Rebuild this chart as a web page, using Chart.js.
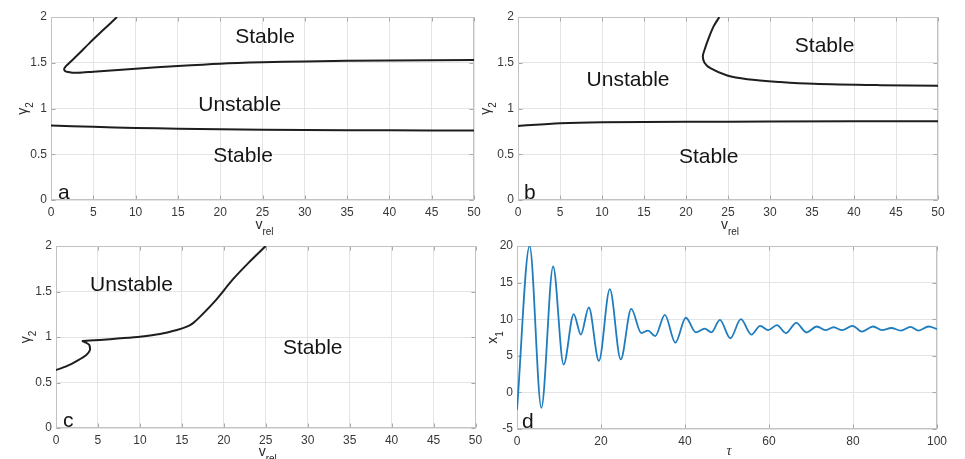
<!DOCTYPE html>
<html>
<head>
<meta charset="utf-8">
<script src="https://cdn.jsdelivr.net/npm/chart.js@4/dist/chart.umd.min.js"></script>
<style>
  html, body { margin: 0; padding: 0; background: #fff; }
  body { position: relative; width: 965px; height: 459px; overflow: hidden; }
  canvas { position: absolute; }
</style>
</head>
<body>
<canvas id="chartA" width="486" height="245" style="left:0;top:0"></canvas>
<canvas id="chartB" width="495" height="245" style="left:470px;top:0"></canvas>
<canvas id="chartC" width="488" height="229" style="left:0;top:230px"></canvas>
<canvas id="chartD" width="495" height="229" style="left:470px;top:230px"></canvas>
<script>
// ---------- axis ticks ----------
const vTicks = [0, 5, 10, 15, 20, 25, 30, 35, 40, 45, 50];
const gammaTicks = [0, 0.5, 1, 1.5, 2];
const tauTicks = [0, 20, 40, 60, 80, 100];
const x1Ticks = [-5, 0, 5, 10, 15, 20];

// ---------- (a) stability boundaries ----------
const aUpperV = [7.8, 6.2, 4.6, 3.2, 2.3, 1.9, 1.62, 1.56, 1.68, 2.0, 2.5, 3.2, 5, 10, 15, 20, 25, 30, 40, 50];
const aUpperG = [2.0, 1.86, 1.72, 1.59, 1.51, 1.475, 1.445, 1.425, 1.408, 1.398, 1.392, 1.39, 1.402, 1.435, 1.465, 1.49, 1.505, 1.515, 1.525, 1.53];
const aLowerV = [0, 5, 10, 15, 20, 30, 40, 50];
const aLowerG = [0.815, 0.8, 0.788, 0.779, 0.772, 0.765, 0.761, 0.759];

// ---------- (b) ----------
const bUpperV = [23.97, 23.3, 22.7, 22.2, 22.0, 22.2, 22.9, 24.9, 27.3, 31.2, 35.2, 43.1, 50];
const bUpperG = [2.0, 1.9, 1.77, 1.64, 1.57, 1.5, 1.44, 1.36, 1.32, 1.29, 1.27, 1.255, 1.248];
const bLowerV = [0, 5, 10, 20, 30, 50];
const bLowerG = [0.81, 0.839, 0.85, 0.854, 0.858, 0.861];

// ---------- (c) ----------
const cBoundV = [0, 1.27, 2.66, 3.58, 4.05, 3.97, 3.58, 3.18, 5.24, 7.63, 10.0, 12.4, 14.4, 15.6, 16.3, 17.3, 19.0, 21.1, 23.0, 25.0];
const cBoundG = [0.637, 0.68, 0.747, 0.8, 0.857, 0.912, 0.938, 0.956, 0.967, 0.985, 1.004, 1.033, 1.077, 1.114, 1.15, 1.235, 1.4, 1.635, 1.82, 2.0];

// ---------- (d) response x1(tau), peaks and troughs ----------
const dTau = [0, 3.0, 5.8, 8.6, 11.1, 13.5, 15.2, 17.1, 19.5, 22.1, 24.7, 27.2, 29.6, 31.2, 32.9,
  35.2, 37.7, 40.2, 42.6, 44.7, 46.3, 48.3, 50.8, 53.3, 55.8, 57.9, 59.8, 61.9, 64.0, 66.5,
  68.9, 71.4, 73.4, 75.4, 77.4, 79.9, 82.1, 84.8, 86.9, 89.1, 91.4, 93.7, 95.6, 98.0, 100];
const dX1 = [-2.4, 20, -2.1, 17.2, 3.8, 10.7, 7.9, 11.6, 4.3, 14.1, 4.5, 11.4, 8.1, 8.45, 7.7,
  10.6, 6.8, 10.2, 8.2, 8.7, 8.2, 9.9, 7.4, 10.0, 7.9, 9.1, 8.5, 9.2, 8.1, 9.5,
  8.2, 9.0, 8.5, 8.9, 8.5, 9.1, 8.3, 9.0, 8.5, 8.8, 8.45, 8.95, 8.45, 9.0, 8.65];

const FONT = "'Liberation Sans', Arial, sans-serif";
const pts = (xs, ys) => xs.map((x, i) => ({ x, y: ys[i] }));

const curve = (xs, ys, tension = 0.3) => ({
  data: pts(xs, ys),
  showLine: true,
  borderColor: "#1e1e1e",
  borderWidth: 2,
  pointRadius: 0,
  tension,
});

// box outline + small inward tick marks
const framePlugin = {
  id: "frame",
  beforeDatasetsDraw(chart) {
    const { ctx, chartArea: a, scales } = chart;
    const L = Math.round(a.left) + 0.5, R = Math.round(a.right) - 0.5;
    const T = Math.round(a.top) + 0.5, B = Math.round(a.bottom) - 0.5;
    ctx.save();
    ctx.lineWidth = 1;
    ctx.strokeStyle = "#a8a8a8";
    ctx.beginPath();
    scales.x.ticks.forEach((t) => {
      const px = Math.round(scales.x.getPixelForValue(t.value)) + 0.5;
      ctx.moveTo(px, B); ctx.lineTo(px, B - 4);
      ctx.moveTo(px, T); ctx.lineTo(px, T + 4);
    });
    scales.y.ticks.forEach((t) => {
      const py = Math.round(scales.y.getPixelForValue(t.value)) + 0.5;
      ctx.moveTo(L, py); ctx.lineTo(L + 4, py);
      ctx.moveTo(R, py); ctx.lineTo(R - 4, py);
    });
    ctx.stroke();
    ctx.strokeStyle = "#c2c2c2";
    ctx.strokeRect(L, T, R - L, B - T);
    ctx.restore();
  },
};

// text with an optional subscript, centred on (x, y)
function drawSub(ctx, main, sub, x, y, rotate, mainFont, subFont) {
  ctx.save();
  ctx.translate(x, y);
  if (rotate) ctx.rotate(-Math.PI / 2);
  ctx.font = mainFont;
  const w1 = ctx.measureText(main).width;
  ctx.font = subFont;
  const w2 = sub ? ctx.measureText(sub).width : 0;
  const x0 = -(w1 + w2) / 2;
  ctx.textAlign = "left";
  ctx.textBaseline = "middle";
  ctx.fillStyle = "#2a2a2a";
  ctx.font = mainFont;
  ctx.fillText(main, x0, 0);
  if (sub) {
    ctx.font = subFont;
    ctx.fillText(sub, x0 + w1, 7);
  }
  ctx.restore();
}

// region names, panel letter and axis titles
const notesPlugin = (n) => ({
  id: "notes",
  afterDatasetsDraw(chart) {
    const { ctx, chartArea: a, scales: { x, y } } = chart;
    ctx.save();
    ctx.fillStyle = "#151515";
    ctx.font = "21px " + FONT;
    ctx.textAlign = "center";
    ctx.textBaseline = "middle";
    n.texts.forEach((t) => ctx.fillText(t.t, x.getPixelForValue(t.x), y.getPixelForValue(t.y)));
    ctx.textAlign = "left";
    ctx.textBaseline = "alphabetic";
    ctx.fillText(n.letter, a.left + n.letterDx, a.bottom - 1);
    ctx.restore();

    drawSub(ctx, n.yTitle[0], n.yTitle[1], a.left - n.yOff, (a.top + a.bottom) / 2, true,
      "14px " + FONT, "10px " + FONT);
    drawSub(ctx, n.xTitle[0], n.xTitle[1], (a.left + a.right) / 2 + 2, a.bottom + n.xOff, false,
      n.xFont, "10px " + FONT);
  },
});

function axis(ticks, fitSize, isX) {
  return {
    type: "linear",
    min: ticks[0],
    max: ticks[ticks.length - 1],
    afterBuildTicks: (s) => { s.ticks = ticks.map((value) => ({ value })); },
    afterFit: (s) => { if (isX) s.height = fitSize; else s.width = fitSize; },
    grid: { color: "#e4e4e4", drawTicks: false },
    border: { display: false },
    ticks: {
      padding: isX ? 5 : 4,
      color: "#383838",
      font: { family: FONT, size: 12 },
      maxRotation: 0,
      autoSkip: false,
      callback: (v) => String(v),
    },
  };
}

function panel(id, box, datasets, xTicks, yTicks, notes) {
  new Chart(document.getElementById(id), {
    type: "scatter",
    data: { datasets },
    options: {
      responsive: false,
      animation: false,
      events: [],
      layout: { padding: { left: 0, top: box.top, right: box.right, bottom: 0 } },
      scales: {
        x: axis(xTicks, box.xh, true),
        y: axis(yTicks, box.yw, false),
      },
      plugins: { legend: { display: false }, tooltip: { enabled: false } },
    },
    plugins: [framePlugin, notesPlugin(notes)],
  });
}

const vrel = { xTitle: ["v", "rel"], xFont: "14px " + FONT };

panel("chartA", { top: 17, right: 12, yw: 51, xh: 45 },
  [curve(aUpperV, aUpperG), curve(aLowerV, aLowerG)], vTicks, gammaTicks,
  Object.assign({
    texts: [
      { t: "Stable", x: 25.3, y: 1.78 },
      { t: "Unstable", x: 22.3, y: 1.04 },
      { t: "Stable", x: 22.7, y: 0.48 },
    ],
    letter: "a", letterDx: 7, yTitle: ["γ", "2"], yOff: 28, xOff: 25,
  }, vrel));

panel("chartB", { top: 17, right: 27, yw: 48, xh: 45 },
  [curve(bUpperV, bUpperG), curve(bLowerV, bLowerG)], vTicks, gammaTicks,
  Object.assign({
    texts: [
      { t: "Stable", x: 36.5, y: 1.68 },
      { t: "Unstable", x: 13.1, y: 1.31 },
      { t: "Stable", x: 22.7, y: 0.47 },
    ],
    letter: "b", letterDx: 6, yTitle: ["γ", "2"], yOff: 32, xOff: 25,
  }, vrel));

panel("chartC", { top: 16, right: 12.5, yw: 56, xh: 31 },
  [curve(cBoundV, cBoundG, 0.2)], vTicks, gammaTicks,
  Object.assign({
    texts: [
      { t: "Unstable", x: 9.0, y: 1.57 },
      { t: "Stable", x: 30.6, y: 0.876 },
    ],
    letter: "c", letterDx: 7, yTitle: ["γ", "2"], yOff: 30, xOff: 24,
  }, vrel));

panel("chartD", { top: 16, right: 28, yw: 47, xh: 30 },
  [{
    data: pts(dTau, dX1),
    showLine: true,
    borderColor: "#1f7dbf",
    borderWidth: 1.8,
    pointRadius: 0,
    cubicInterpolationMode: "monotone",
  }], tauTicks, x1Ticks,
  {
    texts: [],
    letter: "d", letterDx: 5, yTitle: ["x", "1"], yOff: 24, xOff: 22,
    xTitle: ["τ", ""], xFont: "italic 14px 'Liberation Serif', serif",
  });
</script>
</body>
</html>
